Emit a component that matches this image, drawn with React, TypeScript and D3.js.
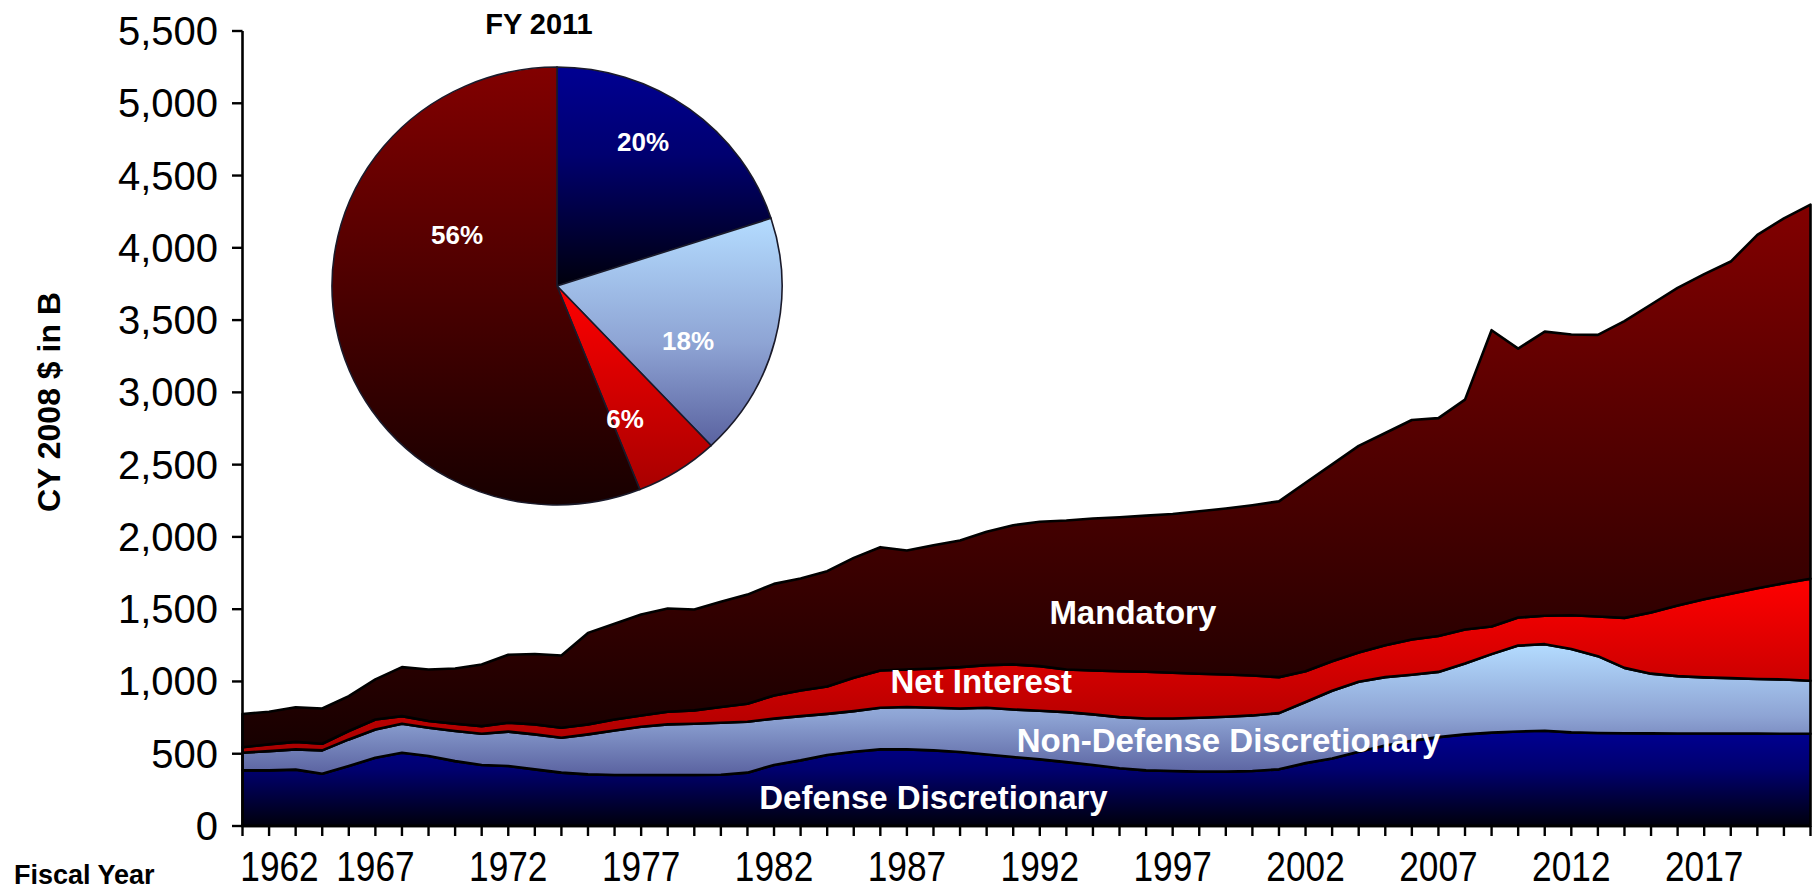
import * as d3 from 'd3'

// Fiscal years on the category axis
const YEARS = [
  1962, 1963, 1964, 1965, 1966, 1967, 1968, 1969, 1970, 1971,
  1972, 1973, 1974, 1975, 1976, 1977, 1978, 1979, 1980, 1981,
  1982, 1983, 1984, 1985, 1986, 1987, 1988, 1989, 1990, 1991,
  1992, 1993, 1994, 1995, 1996, 1997, 1998, 1999, 2000, 2001,
  2002, 2003, 2004, 2005, 2006, 2007, 2008, 2009, 2010, 2011,
  2012, 2013, 2014, 2015, 2016, 2017, 2018, 2019, 2020, 2021,
]

// CY 2008 $ in B
const DEFENSE = [
  385, 385, 390, 362, 415, 472, 507, 484, 449, 422,
  415, 392, 369, 357, 353, 353, 353, 353, 355, 369,
  422, 454, 491, 514, 530, 530, 523, 512, 495, 477,
  461, 442, 422, 399, 385, 380, 376, 376, 380, 392,
  435, 467, 513, 557, 590, 615, 634, 646, 654, 659,
  648, 643, 642, 641, 640, 640, 639, 639, 638, 638,
]
const NON_DEFENSE = [
  122, 133, 140, 161, 184, 196, 200, 196, 208, 216,
  238, 242, 242, 277, 308, 334, 350, 354, 359, 352,
  321, 306, 285, 281, 288, 293, 295, 301, 323, 329,
  336, 346, 350, 354, 359, 364, 373, 380, 385, 389,
  423, 469, 485, 473, 456, 451, 490, 543, 594, 599,
  576, 532, 452, 413, 397, 388, 384, 378, 376, 367,
]
const NET_INTEREST = [
  38, 47, 52, 46, 58, 69, 53, 46, 50, 53,
  61, 69, 69, 69, 76, 78, 87, 93, 109, 125,
  160, 178, 189, 230, 258, 260, 272, 286, 295, 312,
  309, 295, 304, 318, 323, 316, 304, 292, 276, 249,
  212, 204, 202, 220, 244, 249, 236, 191, 194, 197,
  234, 274, 346, 423, 489, 541, 584, 628, 665, 705,
]
const MANDATORY = [
  230, 225, 240, 244, 242, 277, 339, 357, 383, 426,
  471, 487, 500, 633, 662, 698, 715, 698, 728, 755,
  772, 774, 798, 830, 853, 823, 852, 876, 922, 963,
  999, 1030, 1051, 1065, 1080, 1099, 1124, 1148, 1178, 1216,
  1305, 1362, 1430, 1469, 1519, 1507, 1590, 2050, 1861, 1965,
  1942, 1949, 2053, 2131, 2197, 2249, 2298, 2444, 2525, 2589,
]

const SERIES_KEYS = ['defense', 'nonDefense', 'netInterest', 'mandatory']
const Y_TICKS = [0, 500, 1000, 1500, 2000, 2500, 3000, 3500, 4000, 4500, 5000, 5500]
const X_LABEL_YEARS = [1962, 1967, 1972, 1977, 1982, 1987, 1992, 1997, 2002, 2007, 2012, 2017]

// FY 2011 inset pie, clockwise from 12 o'clock
const PIE_KEYS = ['defense', 'nonDefense', 'netInterest', 'mandatory']
const PIE_SHARES = [20, 18, 6, 56]

const W = 1813
const H = 892
const FONT = '"Liberation Sans", Arial, Helvetica, sans-serif'

const GRADS: Record<string, [number, string][]> = {
  defense: [[0, '#000092'], [0.4, '#000070'], [1, '#00000c']],
  nonDefense: [[0, '#b4dcff'], [0.55, '#8ea4d4'], [1, '#5a62a0']],
  netInterest: [[0, '#ff0000'], [1, '#a80000']],
  mandatory: [[0, '#820000'], [1, '#170000']],
}

// series label placements (year, value) on the chart scales
const AREA_LABELS = [
  { text: 'Mandatory', year: 1995.5, value: 1400 },
  { text: 'Net Interest', year: 1989.8, value: 920 },
  { text: 'Non-Defense Discretionary', year: 1999.1, value: 510 },
  { text: 'Defense Discretionary', year: 1988.0, value: 115 },
]

const PIE_LABEL_POS = [
  { text: '20%', x: 643, y: 151 },
  { text: '18%', x: 688, y: 350 },
  { text: '6%', x: 625, y: 428 },
  { text: '56%', x: 457, y: 244 },
]

export default function App() {
  const x = d3.scaleLinear().domain([1962, 2021]).range([242.5, 1810.5])
  const y = d3.scaleLinear().domain([0, 5500]).range([826, 31])

  const rows = YEARS.map((yr, i) => ({
    year: yr,
    defense: DEFENSE[i],
    nonDefense: NON_DEFENSE[i],
    netInterest: NET_INTEREST[i],
    mandatory: MANDATORY[i],
  }))

  const stacked = d3.stack<any>().keys(SERIES_KEYS)(rows)
  const area = d3.area<any>()
    .x((d) => x(d.data.year))
    .y0((d) => y(d[0]))
    .y1((d) => y(d[1]))
    .curve(d3.curveLinear)

  const pieGen = d3.pie<number>().sort(null).value((d) => d)
  const arcs = pieGen(PIE_SHARES)
  const arcGen = d3.arc<d3.PieArcDatum<number>>().innerRadius(0).outerRadius(225)

  const axisY0 = y(0)

  return (
    <svg
      width={W}
      height={H}
      style={{ position: 'absolute', left: 0, top: 0, display: 'block', background: '#fff' }}
    >
      <defs>
        {Object.entries(GRADS).map(([k, stops]) => (
          <linearGradient key={k} id={`g-${k}`} x1="0" y1="0" x2="0" y2="1">
            {stops.map(([o, c]) => (
              <stop key={o} offset={o} stopColor={c} />
            ))}
          </linearGradient>
        ))}
      </defs>

      {/* stacked areas */}
      {stacked.map((s) => (
        <path
          key={s.key}
          d={area(s) ?? ''}
          fill={`url(#g-${s.key})`}
          stroke="#000"
          strokeWidth={2.6}
          strokeLinejoin="round"
        />
      ))}

      {/* area labels */}
      {AREA_LABELS.map((l) => (
        <text
          key={l.text}
          x={x(l.year)}
          y={y(l.value)}
          textAnchor="middle"
          fill="#fff"
          fontSize={33}
          fontWeight="bold"
          fontFamily={FONT}
        >
          {l.text}
        </text>
      ))}

      {/* y axis */}
      <line x1={242.5} y1={y(5500)} x2={242.5} y2={axisY0} stroke="#000" strokeWidth={2.6} />
      {Y_TICKS.map((t) => (
        <g key={t}>
          <line x1={232} y1={y(t)} x2={242.5} y2={y(t)} stroke="#000" strokeWidth={2.4} />
          <text
            x={218}
            y={y(t) + 14}
            textAnchor="end"
            fontSize={40}
            fontFamily={FONT}
            fill="#000"
          >
            {d3.format(',')(t)}
          </text>
        </g>
      ))}

      {/* x axis */}
      <line x1={241} y1={axisY0} x2={1811} y2={axisY0} stroke="#000" strokeWidth={2.6} />
      {YEARS.map((yr) => (
        <line key={yr} x1={x(yr)} y1={axisY0} x2={x(yr)} y2={axisY0 + 10} stroke="#000" strokeWidth={2.4} />
      ))}
      {X_LABEL_YEARS.map((yr, i) => (
        <text
          key={yr}
          transform={`translate(${i === 0 ? x(yr) + 37 : x(yr)},881) scale(0.84,1)`}
          textAnchor="middle"
          fontSize={42}
          fontFamily={FONT}
          fill="#000"
        >
          {yr}
        </text>
      ))}
      <text x={14} y={884} fontSize={27} fontWeight="bold" fontFamily={FONT} fill="#000">
        Fiscal Year
      </text>

      {/* y title */}
      <text
        transform="translate(60,402) rotate(-90)"
        textAnchor="middle"
        fontSize={32}
        fontWeight="bold"
        fontFamily={FONT}
        fill="#000"
      >
        CY 2008 $ in B
      </text>

      {/* inset pie */}
      <text x={539} y={34} textAnchor="middle" fontSize={29} fontWeight="bold" fontFamily={FONT} fill="#000">
        FY 2011
      </text>
      <g transform="translate(557,286) scale(1,0.973)">
        {arcs.map((a, i) => (
          <path
            key={PIE_KEYS[i]}
            d={arcGen(a) ?? ''}
            fill={`url(#g-${PIE_KEYS[i]})`}
            stroke="#1a1a2a"
            strokeWidth={1.6}
          />
        ))}
      </g>
      {PIE_LABEL_POS.map((l) => (
        <text
          key={l.text}
          x={l.x}
          y={l.y}
          textAnchor="middle"
          fill="#fff"
          fontSize={26}
          fontWeight="bold"
          fontFamily={FONT}
        >
          {l.text}
        </text>
      ))}
    </svg>
  )
}
